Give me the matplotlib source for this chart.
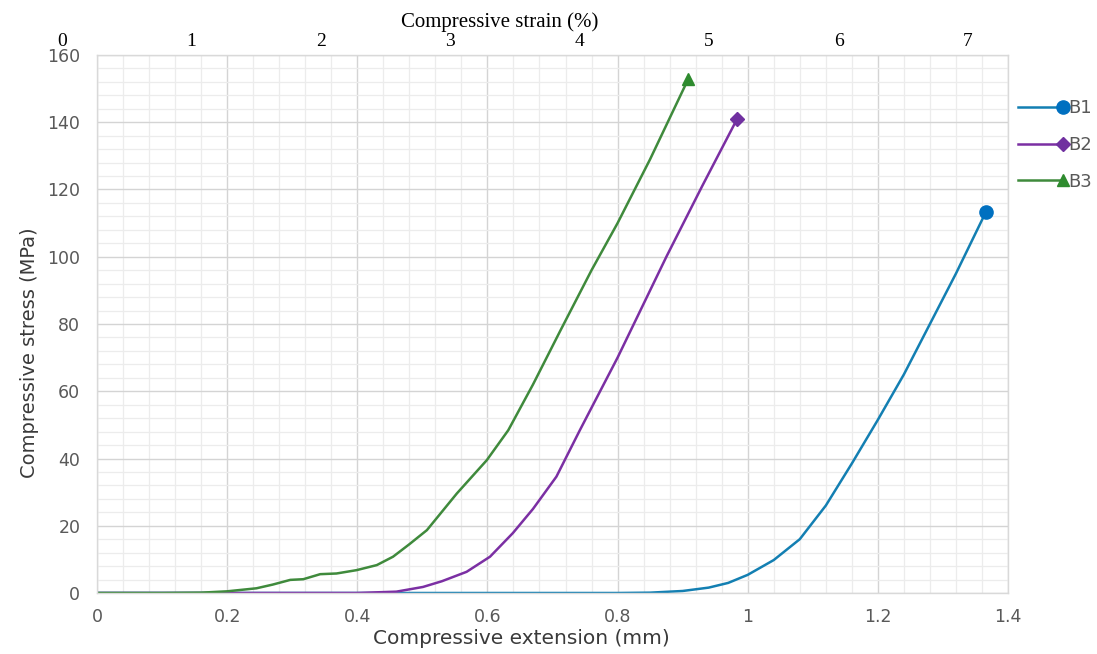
import numpy as np
import matplotlib
matplotlib.use('Agg')
import matplotlib.pyplot as plt
from matplotlib.legend_handler import HandlerLine2D
from matplotlib.lines import Line2D
from matplotlib.ticker import MultipleLocator

# stress-extension curves (mm, MPa)
b1_ext = [0, 0.40, 0.80, 0.85, 0.90, 0.94, 0.97, 1.00, 1.04, 1.08, 1.12, 1.16, 1.20, 1.24, 1.28, 1.32, 1.366]
b1_stress = [0, 0, 0, 0.1, 0.6, 1.6, 3.0, 5.4, 9.8, 16.0, 26.0, 38.5, 51.5, 65.0, 80.0, 95.0, 113.3]

b2_ext = [0, 0.20, 0.40, 0.46, 0.501, 0.53, 0.568, 0.604, 0.639, 0.67, 0.706, 0.742, 0.80, 0.84, 0.875, 0.93, 0.9835]
b2_stress = [0, 0, 0, 0.4, 1.8, 3.5, 6.3, 10.8, 17.8, 25.0, 34.6, 48.4, 70.0, 86.0, 100.0, 121.0, 140.9]

b3_ext = [0, 0.10, 0.16, 0.20, 0.245, 0.27, 0.297, 0.317, 0.343, 0.368, 0.399, 0.43, 0.455,
          0.48, 0.507, 0.553, 0.599, 0.632, 0.67, 0.712, 0.76, 0.80, 0.85, 0.909]
b3_stress = [0, 0, 0.1, 0.5, 1.4, 2.5, 3.9, 4.1, 5.6, 5.8, 6.8, 8.3, 10.8,
             14.5, 18.7, 29.6, 39.5, 48.4, 62.0, 78.0, 96.0, 110.0, 129.0, 153.0]

series_names = ['B1', 'B2', 'B3']
strain_ticks = [0, 1, 2, 3, 4, 5, 6, 7]


class EndMarkerHandler(HandlerLine2D):
    # put the legend marker at the right end of the line, like Excel does
    def create_artists(self, *args, **kwargs):
        artists = super().create_artists(*args, **kwargs)
        for a in artists:
            n = len(a.get_xdata())
            a.set_markevery([n - 1])
        return artists


W, H = 1097, 654
fig = plt.figure(figsize=(W / 100, H / 100), dpi=100)
ax = fig.add_axes([97 / W, (H - 593) / H, (1008 - 97) / W, (593 - 55) / H])

ax.plot(b1_ext, b1_stress, color='#137FB2', lw=1.8)
ax.plot(b2_ext, b2_stress, color='#7B2FA3', lw=1.8)
ax.plot(b3_ext, b3_stress, color='#3F8A3C', lw=1.8)

# end markers
ax.plot(b1_ext[-1], b1_stress[-1], 'o', color='#0070C0', ms=9.5, zorder=5)
ax.plot(b2_ext[-1], b2_stress[-1], 'D', color='#7030A0', ms=7, zorder=5)
ax.plot(b3_ext[-1], b3_stress[-1], '^', color='#2E8B2E', ms=9, zorder=5)

# legend proxies (line + marker)
h1, = ax.plot([], [], color='#137FB2', lw=1.8, marker='o', mfc='#0070C0', mec='#0070C0', ms=9.5)
h2, = ax.plot([], [], color='#7B2FA3', lw=1.8, marker='D', mfc='#7030A0', mec='#7030A0', ms=7)
h3, = ax.plot([], [], color='#3F8A3C', lw=1.8, marker='^', mfc='#2E8B2E', mec='#2E8B2E', ms=9)

ax.set_xlim(0, 1.4)
ax.set_ylim(0, 160)
ax.xaxis.set_minor_locator(MultipleLocator(0.04))
ax.yaxis.set_major_locator(MultipleLocator(20))
ax.yaxis.set_minor_locator(MultipleLocator(4))
ax.set_xticks([0, 0.2, 0.4, 0.6, 0.8, 1.0, 1.2, 1.4])
ax.set_xticklabels(['0', '0.2', '0.4', '0.6', '0.8', '1', '1.2', '1.4'])
ax.grid(which='major', color='#d4d4d4', lw=1.0)
ax.grid(which='minor', color='#ececec', lw=0.9)
ax.set_axisbelow(True)
ax.tick_params(which='both', length=0, labelsize=12.5, labelcolor='#595959')
ax.tick_params(axis='y', pad=12)
ax.tick_params(axis='x', pad=11)
for s in ax.spines.values():
    s.set_color('#d9d9d9')
    s.set_linewidth(1.0)

ax.set_xlabel('Compressive extension (mm)', fontsize=14.5, color='#3a3a3a')
ax.xaxis.set_label_coords((521 - 97) / 911, -(629 - 593) / 538)
ax.set_ylabel('Compressive stress (MPa)', fontsize=14, color='#3a3a3a')
ax.yaxis.set_label_coords(-(97 - 39) / 911, (593 - 353) / 538)

ax.legend([h1, h2, h3], series_names, handler_map={Line2D: EndMarkerHandler()},
          loc='center left', bbox_to_anchor=(1.011, 0.833), frameon=False, borderaxespad=0,
          borderpad=0, handlelength=2.5, handletextpad=0.3, labelspacing=1.05,
          fontsize=13, labelcolor='#595959')

# top strain axis (pasted on, offset from the extension axis)
axt = fig.add_axes([62 / W, (H - 593) / H, (968 - 62) / W, (593 - 55) / H])
axt.patch.set_visible(False)
axt.set_xlim(0, 7)
axt.set_xticks(strain_ticks)
axt.set_xticklabels([str(t) for t in strain_ticks], family='Liberation Serif', fontsize=14)
axt.set_yticks([])
axt.xaxis.set_ticks_position('top')
axt.xaxis.set_label_position('top')
axt.tick_params(length=0, pad=3.5)
for s in axt.spines.values():
    s.set_visible(False)
axt.set_xlabel('Compressive strain (%)', family='Liberation Serif', fontsize=15)
axt.xaxis.set_label_coords((500 - 62) / (968 - 62), 1.0 + 27.5 / 538)

fig.savefig('out.png', dpi=100)
